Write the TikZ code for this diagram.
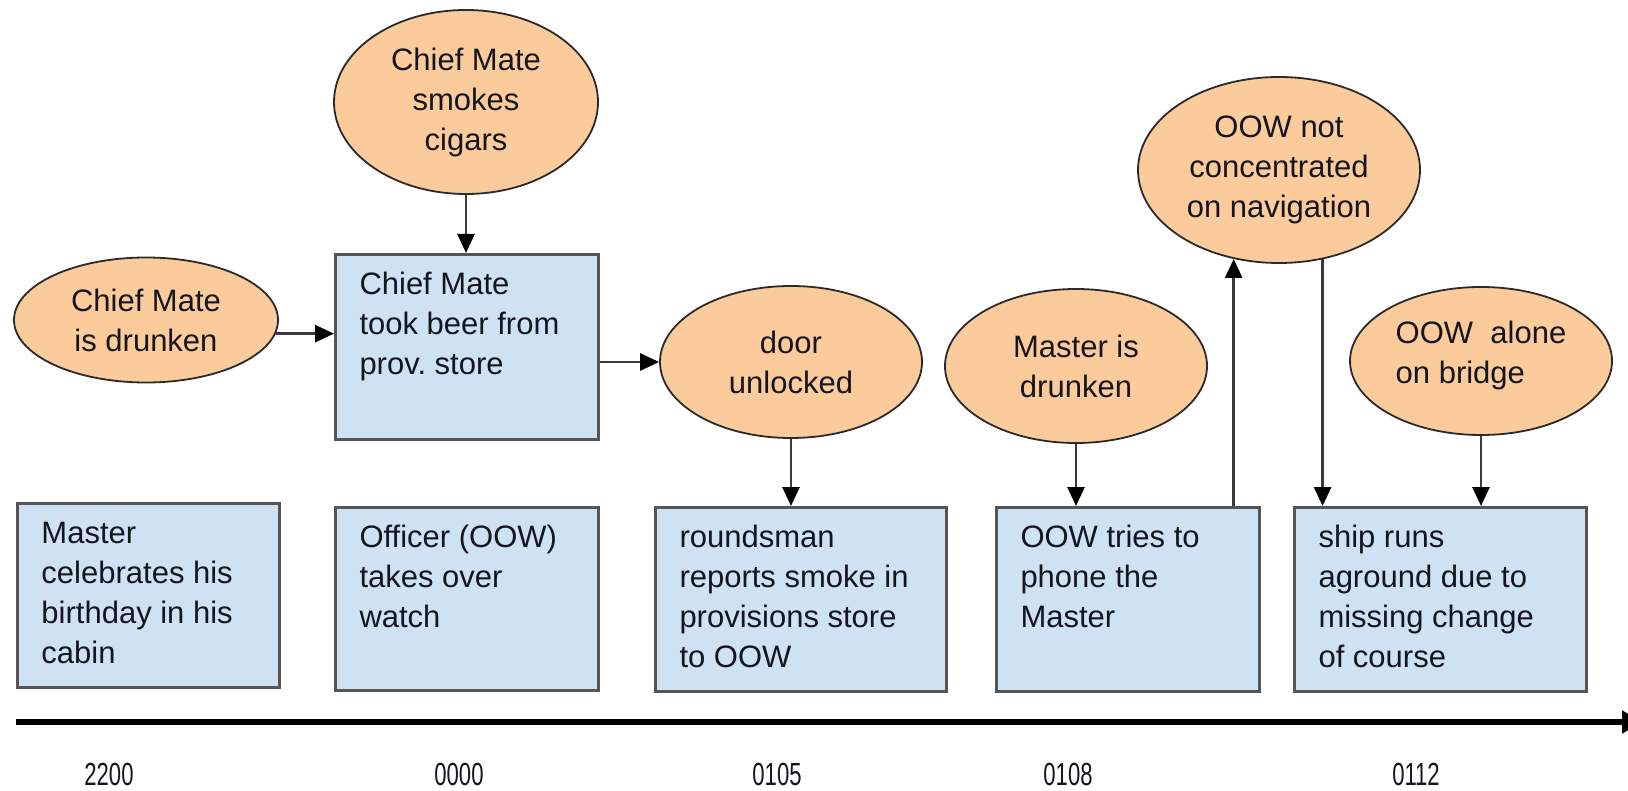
\documentclass[tikz,border=0pt]{standalone}
\usepackage{fontspec}
\usepackage{graphicx}
\setmainfont{Liberation Sans}
\usetikzlibrary{shapes.geometric,arrows.meta}
\frenchspacing

\definecolor{eventfill}{HTML}{CFE2F3}
\definecolor{eventline}{HTML}{555555}
\definecolor{causefill}{HTML}{FBCB9B}
\definecolor{causeline}{HTML}{2A2A2A}
\definecolor{linkline}{HTML}{3A3A3A}
\definecolor{inktext}{HTML}{151520}

% top-aligned, left-aligned text block of a given width and height
\newcommand{\evtext}[3]{\parbox[c][#2][t]{#1}{\raggedright\rule{0pt}{40pt}#3}}

\tikzset{
  event/.style={draw=eventline, line width=3pt, fill=eventfill, text=inktext,
    inner xsep=24pt, inner ysep=0pt, anchor=north west,
    font=\fontsize{31}{40}\selectfont},
  cause/.style={ellipse, draw=causeline, line width=1.8pt, fill=causefill,
    text=inktext, inner sep=0pt, align=center,
    font=\fontsize{31}{40}\selectfont},
  link/.style={draw=linkline, line width=2.8pt,
    -{Triangle[length=19pt,width=17pt,fill=black,color=black]}},
  timeline/.style={draw=black, line width=6pt,
    -{Triangle[length=20pt,width=22pt]}},
  clock/.style={anchor=base, text=inktext, font=\fontsize{32}{38}\selectfont},
}

\begin{document}
\begin{tikzpicture}[x=1pt, y=-1pt]
\useasboundingbox[fill=white] (0,0) rectangle (1628,791);

% events on the time line
\node[event] (birthday) at (16,502)  {\evtext{214pt}{184pt}{Master\\celebrates his\\birthday in his\\cabin}};
\node[event] (watch)    at (334,506) {\evtext{215pt}{183pt}{Officer (OOW)\\takes over\\watch}};
\node[event] (report)   at (654,506) {\evtext{243pt}{184pt}{roundsman\\reports smoke in\\provisions store\\to OOW}};
\node[event] (phone)    at (995,506) {\evtext{215pt}{184pt}{OOW tries to\\phone the\\Master}};
\node[event] (aground)  at (1293,506){\evtext{244pt}{184pt}{ship runs\\aground due to\\missing change\\of course}};
\node[event] (beer)     at (334,253) {\evtext{215pt}{185pt}{Chief Mate\\took beer from\\prov. store}};

% contributing conditions
\node[cause, minimum width=264pt, minimum height=125pt] (cmdrunk) at (146,320) {Chief Mate\\is drunken};
\node[cause, minimum width=264pt, minimum height=184pt] (cigars)  at (466,102) {Chief Mate\\smokes\\cigars};
\node[cause, minimum width=262pt, minimum height=152pt] (door)    at (791,362) {door\\unlocked};
\node[cause, minimum width=262pt, minimum height=154pt] (mdrunk)  at (1076,366) {Master is\\drunken};
\node[cause, minimum width=282pt, minimum height=186pt] (focus)   at (1279,170) {OOW not\\concentrated\\on navigation};
\node[cause, minimum width=262pt, minimum height=148pt] (alone)   at (1481,361)
  {\raisebox{-1pt}[0pt][0pt]{\begin{tabular}{@{}l@{}}OOW\ \ alone\\on bridge\end{tabular}}};

% causal links
\draw[link] (cmdrunk.-6) -- (cmdrunk.-6 -| beer.west);
\draw[link] (cigars.south) -- (cigars.south |- beer.north);
\draw[link] (beer.east |- door.west) -- (door.west);
\draw[link] (door.south) -- (door.south |- report.north);
\draw[link] (mdrunk.south) -- (mdrunk.south |- phone.north);
\draw[link] (phone.north -| focus.243) -- (focus.243);
\draw[link] (focus.-64) -- (focus.-64 |- aground.north);
\draw[link] (alone.south) -- (alone.south |- aground.north);

% time axis, its head running off the right edge
\coordinate (tstart) at (16,722);
\coordinate (tend) at (1642,722);
\draw[timeline] (tstart) -- (tend);

\node[clock] (c2200) at (109,785)  {\scalebox{0.69}[1]{2200}};
\node[clock] (c0000) at (459,785)  {\scalebox{0.69}[1]{0000}};
\node[clock] (c0105) at (777,785)  {\scalebox{0.69}[1]{0105}};
\node[clock] (c0108) at (1068,785) {\scalebox{0.69}[1]{0108}};
\node[clock] (c0112) at (1416,785) {\scalebox{0.69}[1]{0112}};
\end{tikzpicture}
\end{document}
